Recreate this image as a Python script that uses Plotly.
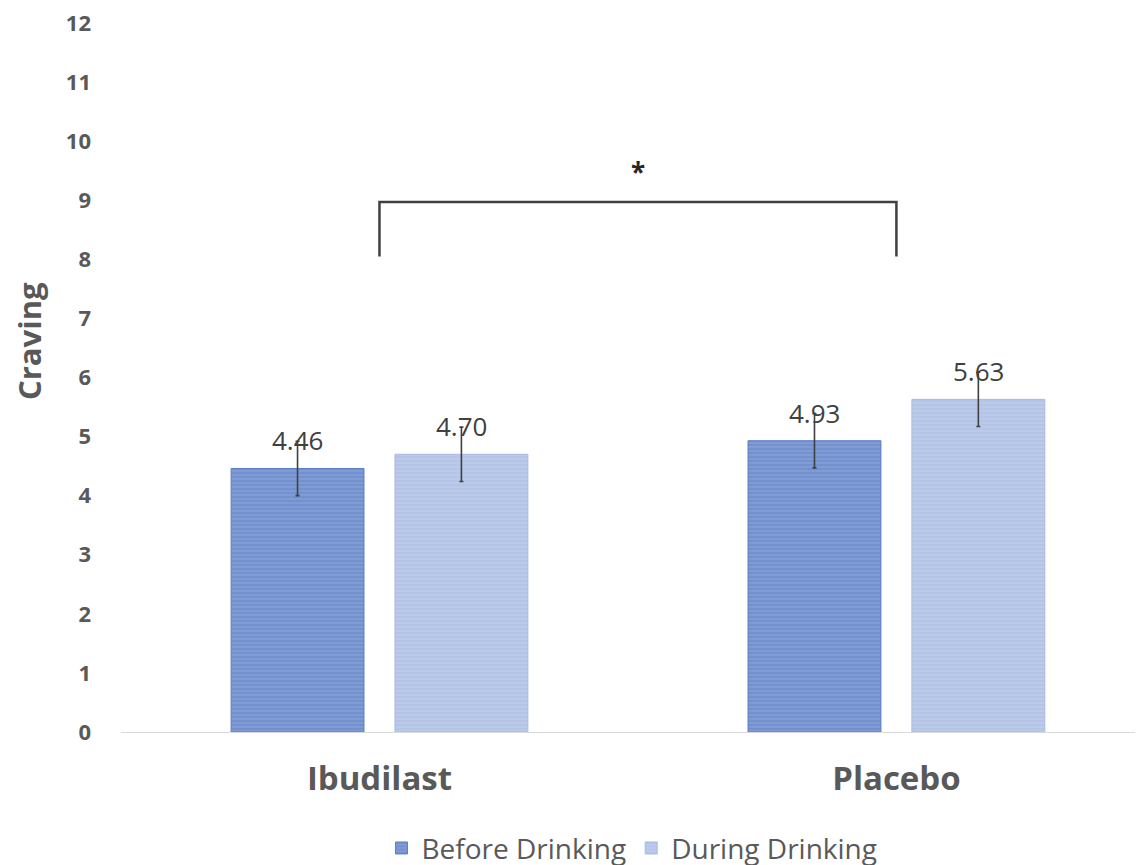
import plotly.graph_objects as go

categories = ["Ibudilast", "Placebo"]
before_vals = [4.46, 4.93]
during_vals = [4.70, 5.63]
before_err = [0.46, 0.46]
during_err = [0.46, 0.46]
series_names = ["Before Drinking", "During Drinking"]
y_ticks = list(range(0, 13))
bracket_low = 8.05
bracket_high = 8.97
star_y = 9.48

BAR_GAP = 0.366
GROUP_GAP = 0.189
FONT = "Open Sans, Segoe UI, sans-serif"
TXT = "#595959"

fig = go.Figure()
fig.add_trace(go.Bar(
    name=series_names[0], x=categories, y=before_vals,
    marker=dict(color="#7592d0", line=dict(color="#5d7dc4", width=1),
                pattern=dict(shape="-", fgcolor="#5877bf", bgcolor="#7f9bd4", size=4, solidity=0.3)),
    error_y=dict(type="data", array=before_err, color="#404040", thickness=1.6, width=2),
))
fig.add_trace(go.Bar(
    name=series_names[1], x=categories, y=during_vals,
    marker=dict(color="#b6c4e8", line=dict(color="#a9b9e3", width=1),
                pattern=dict(shape="-", fgcolor="#a3b5e2", bgcolor="#bccaea", size=4, solidity=0.3)),
    error_y=dict(type="data", array=during_err, color="#404040", thickness=1.6, width=2),
))

half = (1 - BAR_GAP) / 4
for i, cat in enumerate(categories):
    for vals, off in ((before_vals, -half), (during_vals, half)):
        fig.add_annotation(x=i + off, y=vals[i], xref="x", yref="y",
                           text=f"{vals[i]:.2f}", showarrow=False,
                           yanchor="bottom", yshift=8,
                           font=dict(family=FONT, size=26, color="#404040"))

# significance bracket
fig.add_shape(type="path", xref="x", yref="y",
              path=f"M 0,{bracket_low} L 0,{bracket_high} L 1,{bracket_high} L 1,{bracket_low}",
              line=dict(color="#404040", width=2.5))
fig.add_annotation(x=0.5, y=star_y, xref="x", yref="y", text="<b>*</b>", showarrow=False,
                   font=dict(family=FONT, size=26, color="#262626"))

# y-axis title (placed like the original, above the plot's vertical centre)
fig.add_annotation(x=0, y=0.5515, xref="paper", yref="paper", xshift=-92,
                   text="Craving", textangle=-90, showarrow=False,
                   xanchor="center", yanchor="middle",
                   font=dict(family=FONT, size=31, color=TXT, weight="bold"))

fig.update_layout(
    width=1143, height=865,
    margin=dict(l=113, r=8, t=15, b=141, autoexpand=False),
    paper_bgcolor="white", plot_bgcolor="white",
    barmode="group", bargap=BAR_GAP, bargroupgap=GROUP_GAP,
    font=dict(family=FONT, color=TXT),
    showlegend=True,
    legend=dict(orientation="h", x=0.5, xanchor="center", xref="paper",
                y=-0.164, yanchor="middle", font=dict(family=FONT, size=28, color=TXT),
                itemwidth=30, tracegroupgap=0),
    xaxis=dict(type="category", range=[-0.5, 1.477], showgrid=False, showline=True,
               linecolor="#d9d9d9", linewidth=1, ticks="", automargin=False,
               tickfont=dict(family=FONT, size=33, color=TXT, weight="bold"),
               ticklabelstandoff=17),
    yaxis=dict(range=[0, 12], tickvals=y_ticks, showgrid=False, zeroline=False,
               showline=False, ticks="", automargin=False, ticklabeloverflow="allow",
               tickfont=dict(family=FONT, size=22, color=TXT, weight="bold"),
               ticklabelstandoff=29),
)

fig.write_html("out.html")
